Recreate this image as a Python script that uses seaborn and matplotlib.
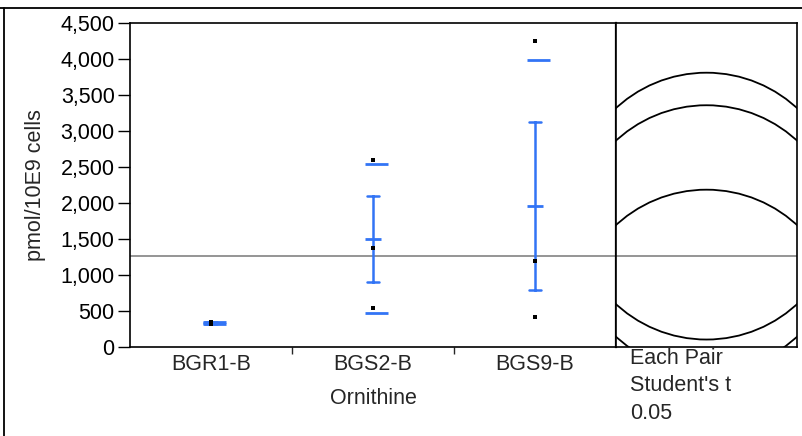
import matplotlib
matplotlib.use("Agg")
import matplotlib.pyplot as plt
from matplotlib.patches import Circle
from matplotlib.lines import Line2D
from matplotlib.ticker import StrMethodFormatter
import seaborn as sns
import numpy as np
import pandas as pd

# values (pmol/10E9 cells)
groups = ["BGR1-B", "BGS2-B", "BGS9-B"]
bgr1 = [348, 330, 318]
bgs2 = [2597, 1371, 546]
bgs9 = [4250, 1199, 421]
y_ticks = [0, 500, 1000, 1500, 2000, 2500, 3000, 3500, 4000, 4500]
t_crit = 2.4469  # Student's t, alpha 0.05, df 6

df = pd.DataFrame({
    "group": ["BGR1-B"] * 3 + ["BGS2-B"] * 3 + ["BGS9-B"] * 3,
    "value": bgr1 + bgs2 + bgs9,
})

sns.set_style("white")
plt.rcParams["font.family"] = ["Liberation Sans", "DejaVu Sans"]
plt.rcParams["font.size"] = 15.5

blue = "#3274f5"
W, H = 802, 436
fig = plt.figure(figsize=(W / 100, H / 100), dpi=100)
ax = fig.add_axes([130 / W, (H - 347) / H, 486 / W, 324 / H])
pan = fig.add_axes([616 / W, (H - 347) / H, 181 / W, 324 / H])

# points and means +/- std err
sns.pointplot(data=df, x="group", y="value", order=groups, errorbar="se",
              capsize=0.07, color=blue, marker="_", markersize=11,
              markeredgewidth=2, linestyle="none",
              err_kws={"linewidth": 1.8}, ax=ax)
sns.stripplot(data=df, x="group", y="value", order=groups, jitter=False,
              color="black", marker="s", size=3.5, zorder=5, ax=ax)

# std dev lines
stats = df.groupby("group")["value"].agg(["mean", "std"]).loc[groups]
for i, (m, s) in enumerate(zip(stats["mean"], stats["std"])):
    ax.hlines([m + s, m - s], i - 0.05, i + 0.09, color=blue, lw=2)

grand = df["value"].mean()
ax.axhline(grand, color="#8c8c8c", lw=1.3, zorder=1)

ax.set_xlim(-0.5, 2.5)
ax.set_ylim(0, 4500)
ax.set_yticks(y_ticks)
ax.yaxis.set_major_formatter(StrMethodFormatter("{x:,.0f}"))
ax.set_xticks(range(len(groups)))
ax.set_xticklabels(groups)
ax.set_xticks([0.5, 1.5], minor=True)
ax.tick_params(axis="y", length=9, width=1, pad=2, colors="black", left=True)
ax.tick_params(axis="x", which="major", length=0, pad=5)
ax.tick_params(axis="x", which="minor", length=5, width=1, bottom=True)
ax.set_xlabel("Ornithine")
ax.set_ylabel("pmol/10E9 cells")
ax.xaxis.set_label_coords(0.5, -0.125)
ax.yaxis.set_label_coords(-0.172, 0.5)
for sp in ax.spines.values():
    sp.set_visible(True)
    sp.set_color("black")
    sp.set_linewidth(1.2)
ax.spines["right"].set_linewidth(1.6)

# comparison circles panel (same pixel scale on both axes)
half = 181 * 4500 / 324 / 2
pan.set_xlim(-half, half)
pan.set_ylim(0, 4500)
pan.set_xticks([])
pan.set_yticks([])
for sp in pan.spines.values():
    sp.set_visible(True)
    sp.set_color("black")
    sp.set_linewidth(1.2)
mse = (df.groupby("group")["value"].var()).mean()
radius = t_crit * np.sqrt(mse / 3)
for m in stats["mean"]:
    pan.add_patch(Circle((0, m), radius, fill=False, ec="black", lw=1.3))
pan.axhline(grand, color="#8c8c8c", lw=1.3, zorder=1)

fig.text(630 / W, 1 - 348 / H, "Each Pair\nStudent's t\n0.05", ha="left",
         va="top", linespacing=1.4)

# outer frame
fig.add_artist(Line2D([0, 1], [1 - 8 / H, 1 - 8 / H], color="black", lw=1.3))
fig.add_artist(Line2D([4 / W, 4 / W], [0, 1 - 8 / H], color="black", lw=1.3))

fig.savefig("out.png", dpi=100)
